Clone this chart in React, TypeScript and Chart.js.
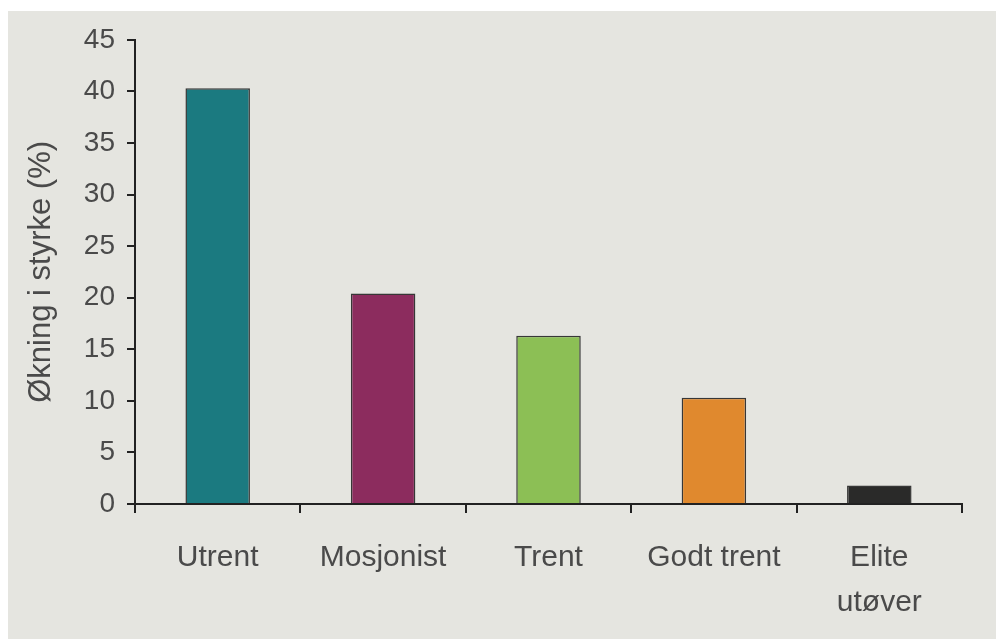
import React, { useEffect, useRef } from "react";
import { Chart, registerables } from "chart.js";

Chart.register(...registerables);

const categories: (string | string[])[] = ["Utrent", "Mosjonist", "Trent", "Godt trent", ["Elite", "utøver"]];
const values: number[] = [40.3, 20.4, 16.3, 10.3, 1.8];
const barColors: string[] = ["#1b7a80", "#8c2c5e", "#8cbf55", "#e0892e", "#2a2a29"];
const yTitle = "Økning i styrke (%)";
const yMin = 0;
const yMax = 45;
const yStep = 5;

export default function App() {
  const ref = useRef<HTMLCanvasElement | null>(null);

  useEffect(() => {
    document.body.style.margin = "0";
    const canvas = ref.current;
    if (!canvas) return;
    const chart = new Chart(canvas, {
      type: "bar",
      data: {
        labels: categories,
        datasets: [
          {
            data: values,
            backgroundColor: barColors,
            borderColor: "rgba(25,25,25,0.85)",
            borderWidth: 1.5,
            barPercentage: 0.39,
            categoryPercentage: 1,
          },
        ],
      },
      options: {
        animation: false,
        responsive: false,
        maintainAspectRatio: false,
        layout: { padding: { top: 28, right: 34, left: 0, bottom: 0 } },
        plugins: {
          legend: { display: false },
          tooltip: { enabled: false },
        },
        scales: {
          x: {
            offset: true,
            grid: {
              offset: true,
              drawOnChartArea: false,
              drawTicks: true,
              tickLength: 9,
              color: "#222",
              lineWidth: 2,
            },
            border: { display: true, color: "#222", width: 2 },
            ticks: {
              color: "#4a4a4a",
              font: { family: "'Liberation Sans', Arial, sans-serif", size: 30, lineHeight: 1.5 },
              padding: 22,
              maxRotation: 0,
              autoSkip: false,
            },
            afterFit: (scale: any) => {
              scale.height = 135;
            },
          },
          y: {
            min: yMin,
            max: yMax,
            ticks: {
              stepSize: yStep,
              color: "#4a4a4a",
              font: { family: "'Liberation Sans', Arial, sans-serif", size: 28 },
              padding: 12,
            },
            grid: {
              drawOnChartArea: false,
              drawTicks: true,
              tickLength: 8,
              color: "#222",
              lineWidth: 2,
            },
            border: { display: true, color: "#222", width: 2 },
            title: {
              display: true,
              text: yTitle,
              color: "#4a4a4a",
              font: { family: "'Liberation Sans', Arial, sans-serif", size: 31, lineHeight: 1.2 },
              padding: { top: 15, bottom: 0 },
            },
            afterFit: (scale: any) => {
              scale.width = 127;
            },
          },
        },
      },
    });
    return () => chart.destroy();
  }, []);

  return (
    <div style={{ position: "fixed", left: 0, top: 0, width: 996, height: 639, background: "#ffffff" }}>
      <div style={{ position: "absolute", left: 8, top: 11, width: 988, height: 628, background: "#e5e5e0" }}>
        <canvas ref={ref} width={988} height={628} style={{ display: "block", width: 988, height: 628 }} />
      </div>
    </div>
  );
}
